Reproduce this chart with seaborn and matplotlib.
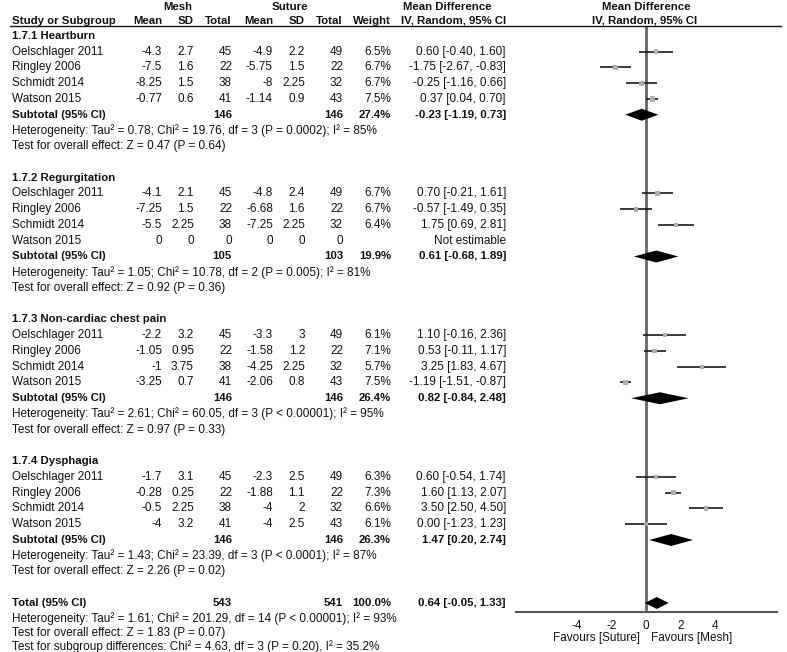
import matplotlib
matplotlib.use("Agg")
import matplotlib.pyplot as plt
import matplotlib.transforms as mtransforms
import pandas as pd
import seaborn as sns

# ---- data ----
subgroups = ["1.7.1 Heartburn", "1.7.2 Regurgitation", "1.7.3 Non-cardiac chest pain", "1.7.4 Dysphagia"]
studies = ["Oelschlager 2011", "Ringley 2006", "Schmidt 2014", "Watson 2015"]

mesh_mean = [[-4.3, -7.5, -8.25, -0.77], [-4.1, -7.25, -5.5, 0], [-2.2, -1.05, -1, -3.25], [-1.7, -0.28, -0.5, -4]]
mesh_sd = [[2.7, 1.6, 1.5, 0.6], [2.1, 1.5, 2.25, 0], [3.2, 0.95, 3.75, 0.7], [3.1, 0.25, 2.25, 3.2]]
mesh_n = [[45, 22, 38, 41], [45, 22, 38, 0], [45, 22, 38, 41], [45, 22, 38, 41]]
sut_mean = [[-4.9, -5.75, -8, -1.14], [-4.8, -6.68, -7.25, 0], [-3.3, -1.58, -4.25, -2.06], [-2.3, -1.88, -4, -4]]
sut_sd = [[2.2, 1.5, 2.25, 0.9], [2.4, 1.6, 2.25, 0], [3, 1.2, 2.25, 0.8], [2.5, 1.1, 2, 2.5]]
sut_n = [[49, 22, 32, 43], [49, 22, 32, 0], [49, 22, 32, 43], [49, 22, 32, 43]]
weight = [[6.5, 6.7, 6.7, 7.5], [6.7, 6.7, 6.4, None], [6.1, 7.1, 5.7, 7.5], [6.3, 7.3, 6.6, 6.1]]
md = [[0.60, -1.75, -0.25, 0.37], [0.70, -0.57, 1.75, None], [1.10, 0.53, 3.25, -1.19], [0.60, 1.60, 3.50, 0.00]]
ci_lo = [[-0.40, -2.67, -1.16, 0.04], [-0.21, -1.49, 0.69, None], [-0.16, -0.11, 1.83, -1.51], [-0.54, 1.13, 2.50, -1.23]]
ci_hi = [[1.60, -0.83, 0.66, 0.70], [1.61, 0.35, 2.81, None], [2.36, 1.17, 4.67, -0.87], [1.74, 2.07, 4.50, 1.23]]

sub_mesh_n = [146, 105, 146, 146]
sub_sut_n = [146, 103, 146, 146]
sub_weight = [27.4, 19.9, 26.4, 26.3]
sub_md = [-0.23, 0.61, 0.82, 1.47]
sub_lo = [-1.19, -0.68, -0.84, 0.20]
sub_hi = [0.73, 1.89, 2.48, 2.74]
sub_het = ["Heterogeneity: Tau\u00b2 = 0.78; Chi\u00b2 = 19.76, df = 3 (P = 0.0002); I\u00b2 = 85%",
           "Heterogeneity: Tau\u00b2 = 1.05; Chi\u00b2 = 10.78, df = 2 (P = 0.005); I\u00b2 = 81%",
           "Heterogeneity: Tau\u00b2 = 2.61; Chi\u00b2 = 60.05, df = 3 (P < 0.00001); I\u00b2 = 95%",
           "Heterogeneity: Tau\u00b2 = 1.43; Chi\u00b2 = 23.39, df = 3 (P < 0.0001); I\u00b2 = 87%"]
sub_test = ["Test for overall effect: Z = 0.47 (P = 0.64)",
            "Test for overall effect: Z = 0.92 (P = 0.36)",
            "Test for overall effect: Z = 0.97 (P = 0.33)",
            "Test for overall effect: Z = 2.26 (P = 0.02)"]

total_mesh_n = 543
total_sut_n = 541
total_md, total_lo, total_hi = 0.64, -0.05, 1.33
total_lines = ["Heterogeneity: Tau\u00b2 = 1.61; Chi\u00b2 = 201.29, df = 14 (P < 0.00001); I\u00b2 = 93%",
               "Test for overall effect: Z = 1.83 (P = 0.07)",
               "Test for subgroup differences: Chi\u00b2 = 4.63, df = 3 (P = 0.20), I\u00b2 = 35.2%"]
x_ticks = [-4, -2, 0, 2, 4]

# ---- layout (pixels of a 787x652 canvas) ----
W, H = 787, 652
ROW0, STEP = 36, 15.75
def px2row(p):
    return (p - ROW0) / STEP

sns.set_theme(style="white")
plt.rcParams["font.family"] = ["Liberation Sans", "DejaVu Sans"]
plt.rcParams["axes.unicode_minus"] = False
FS = 8.5
FS_B = 8.2
INK = "#111111"

fig = plt.figure(figsize=(W / 100, H / 100), dpi=100)
ax = fig.add_axes([516 / W, 0, (777 - 516) / W, 1])
ax.set_xlim(-7.52, 7.61)
ax.set_ylim(px2row(H), px2row(0))
ax.patch.set_alpha(0)

tr = mtransforms.blended_transform_factory(fig.transFigure, ax.transData)
def put(px, row, s, ha="right", bold=False):
    ax.text(px / W, row, s, transform=tr, ha=ha, va="center",
            fontsize=FS_B if bold else FS,
            fontweight="bold" if bold else "normal", color=INK)

# column right edges
C_MM, C_MSD, C_MN, C_SM, C_SSD, C_SN, C_W, C_CI = 162, 194, 232, 273, 305, 343, 391, 506

# headers
put(178, px2row(7), "Mesh", ha="center", bold=True)
put(290, px2row(7), "Suture", ha="center", bold=True)
put(447, px2row(7), "Mean Difference", ha="center", bold=True)
put(646, px2row(7), "Mean Difference", ha="center", bold=True)
hr = px2row(21)
put(12, hr, "Study or Subgroup", ha="left", bold=True)
for c, s in zip([C_MM, C_MSD, C_MN, C_SM, C_SSD, C_SN, C_W, C_CI],
                ["Mean", "SD", "Total", "Mean", "SD", "Total", "Weight", "IV, Random, 95% CI"]):
    put(c, hr, s, bold=True)
put(645, hr, "IV, Random, 95% CI", ha="center", bold=True)
line_row = px2row(26.5)
ax.plot([10 / W, 781 / W], [line_row, line_row], transform=tr, color=INK, lw=1, clip_on=False)

# build rows
recs = []
sub_rows = []
r = 0
for g in range(4):
    put(12, r, subgroups[g], ha="left", bold=True)
    r += 1
    for i in range(4):
        put(12, r, studies[i], ha="left")
        put(C_MM, r, f"{mesh_mean[g][i]:g}")
        put(C_MSD, r, f"{mesh_sd[g][i]:g}")
        put(C_MN, r, f"{mesh_n[g][i]}")
        put(C_SM, r, f"{sut_mean[g][i]:g}")
        put(C_SSD, r, f"{sut_sd[g][i]:g}")
        put(C_SN, r, f"{sut_n[g][i]}")
        if md[g][i] is None:
            put(C_CI, r, "Not estimable")
        else:
            put(C_W, r, f"{weight[g][i]:.1f}%")
            put(C_CI, r, f"{md[g][i]:.2f} [{ci_lo[g][i]:.2f}, {ci_hi[g][i]:.2f}]")
            recs.append(dict(row=r, md=md[g][i], lo=ci_lo[g][i], hi=ci_hi[g][i], w=weight[g][i]))
        r += 1
    put(12, r, "Subtotal (95% CI)", ha="left", bold=True)
    put(C_MN, r, f"{sub_mesh_n[g]}", bold=True)
    put(C_SN, r, f"{sub_sut_n[g]}", bold=True)
    put(C_W, r, f"{sub_weight[g]:.1f}%", bold=True)
    put(C_CI, r, f"{sub_md[g]:.2f} [{sub_lo[g]:.2f}, {sub_hi[g]:.2f}]", bold=True)
    sub_rows.append((r, sub_md[g], sub_lo[g], sub_hi[g]))
    r += 1
    put(12, r, sub_het[g], ha="left")
    r += 1
    put(12, r, sub_test[g], ha="left")
    r += 2

put(12, r, "Total (95% CI)", ha="left", bold=True)
put(C_MN, r, f"{total_mesh_n}", bold=True)
put(C_SN, r, f"{total_sut_n}", bold=True)
put(C_W, r, "100.0%", bold=True)
put(C_CI, r, f"{total_md:.2f} [{total_lo:.2f}, {total_hi:.2f}]", bold=True)
sub_rows.append((r, total_md, total_lo, total_hi))
# last lines squeezed a little so the final one stays inside the canvas
put(12, r + 1, total_lines[0], ha="left")
put(12, r + 1.9, total_lines[1], ha="left")
put(12, r + 2.75, total_lines[2], ha="left")

# ---- forest marks ----
df = pd.DataFrame(recs)
axis_row = px2row(612)
ax.vlines(0, line_row, axis_row, color="#666666", lw=2, zorder=1)
ax.hlines(df["row"], df["lo"], df["hi"], color="#1a1a1a", lw=1.2, zorder=2)
sns.scatterplot(data=df, x="md", y="row", size="w", sizes=(8, 14), marker="s",
                color="#b0b0b0", edgecolor="none", legend=False, ax=ax, zorder=3)
hh = 0.38
for rr, m, lo, hi in sub_rows:
    ax.fill([lo, m, hi, m], [rr, rr - hh, rr, rr + hh], color="black", lw=0, zorder=4)

# x axis at the bottom of the plot panel
for side in ["left", "right", "top"]:
    ax.spines[side].set_visible(False)
ax.spines["bottom"].set_position(("data", axis_row))
ax.spines["bottom"].set_color("#555555")
ax.spines["bottom"].set_linewidth(1.5)
ax.set_yticks([])
ax.set_xticks(x_ticks)
ax.set_xticklabels([str(t) for t in x_ticks], fontsize=FS, color=INK)
ax.tick_params(axis="x", direction="inout", length=7, width=1.2, color="#333333", pad=2)
ax.set_xlabel("")
ax.set_ylabel("")
fav_row = px2row(638)
put(640, fav_row, "Favours [Suture]", ha="right")
put(651, fav_row, "Favours [Mesh]", ha="left")

fig.savefig("out.png", dpi=100)
